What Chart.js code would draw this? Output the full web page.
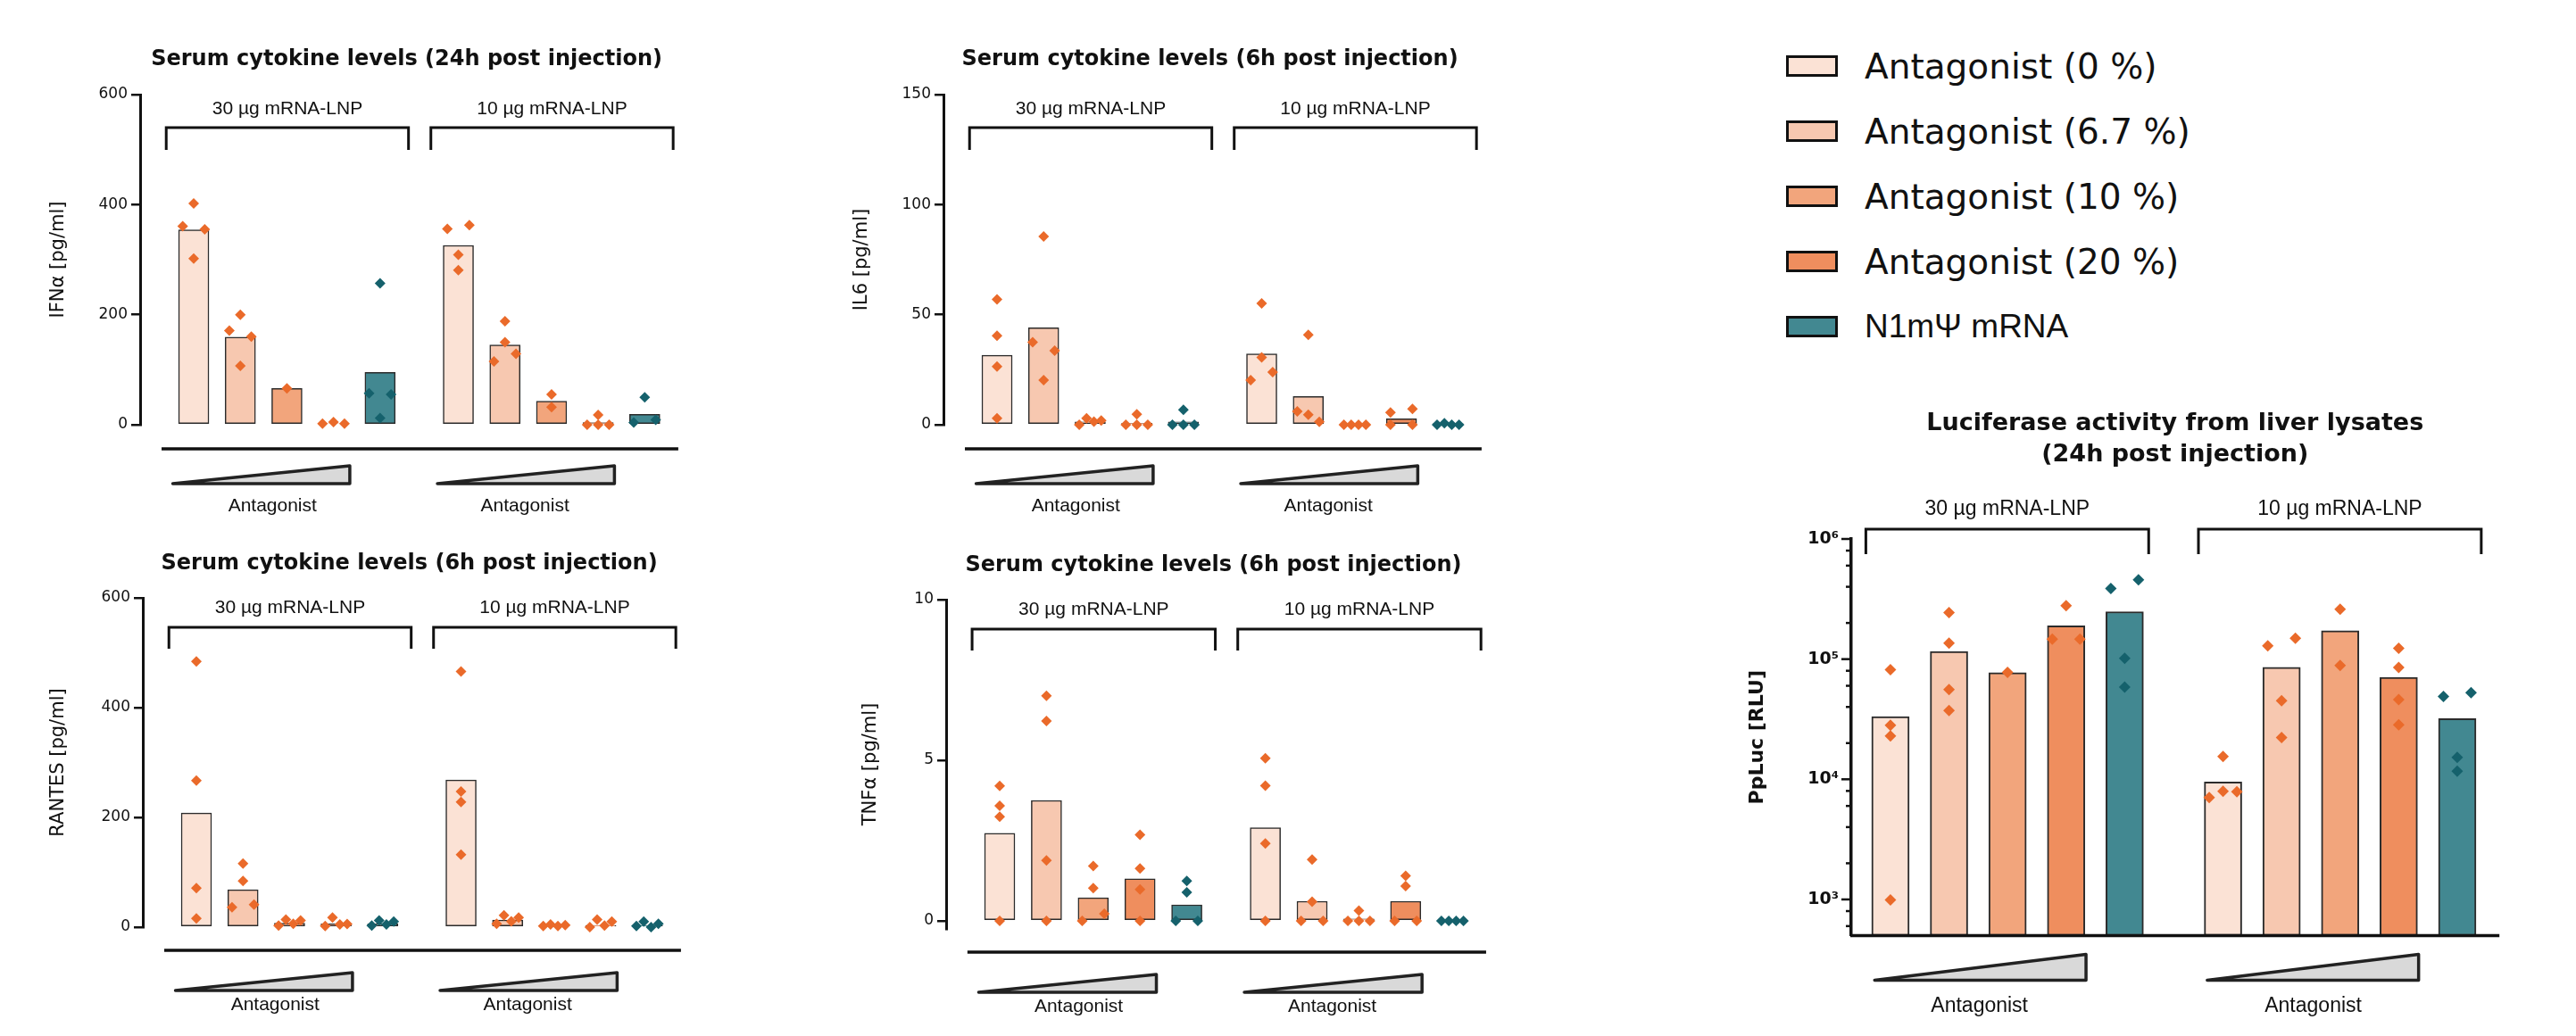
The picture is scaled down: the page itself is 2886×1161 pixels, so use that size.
<!DOCTYPE html>
<html>
<head>
<meta charset="utf-8">
<script src="https://cdn.jsdelivr.net/npm/chart.js@4.4.1/dist/chart.umd.min.js"></script>
<style>
    html, body { margin: 0; padding: 0; background: #fff; }
    body { width: 2886px; height: 1161px; position: relative; overflow: hidden; }
    canvas { position: absolute; }
    .legend-row { position: absolute; left: 2001px; height: 56px; display: flex; align-items: center; white-space: nowrap; color: #111; }
    .legend-box { width: 52px; height: 18px; border: 3px solid #111; margin-right: 30px; }
    .legend-text { font-family: "DejaVu Sans"; font-size: 39px; }
    .legend-text.alt { font-family: "Liberation Sans"; font-size: 37px; }
</style>
</head>
<body>
<script>
// Groups and conditions (bars go 30 µg x5, then 10 µg x5)
const groups = ['30 µg mRNA-LNP', '10 µg mRNA-LNP'];
const conditions = ['Antagonist (0 %)', 'Antagonist (6.7 %)', 'Antagonist (10 %)', 'Antagonist (20 %)', 'N1mΨ mRNA'];
const barColors = ['#fbe2d5', '#f7c8b0', '#f2a57c', '#ef8e5e', '#428891'];
const dotColors = ['#ea6a2a', '#ea6a2a', '#ea6a2a', '#ea6a2a', '#15616c'];

// IFNα, 24h [pg/ml]
const ifnTicks = [0, 200, 400, 600];
const ifnMeans = [354, 159, 66, 2, 95, 326, 145, 43, 4, 19];
const ifnPoints = [
    [361, 402, 355, 302], [171, 200, 160, 107], [66], [2, 5, 2], [57, 257, 55, 12],
    [356, 363, 309, 281], [115, 188, 150, 129], [55, 32], [18, 0, 0, 0], [4, 50, 9]
];

// IL6, 6h [pg/ml]
const il6Ticks = [0, 50, 100, 150];
const il6Means = [31.6, 44.1, 1.3, 0.7, 1.3, 32.2, 12.8, 0, 2.7, 0.3];
const il6Points = [
    [57, 40.4, 26.5, 2.9], [37.5, 85.5, 33.6, 20.3], [0, 2.9, 1.4, 1.9], [0, 4.8, 0, 0], [0, 6.8, 0, 0],
    [20.3, 55.1, 30.6, 23.9], [6.1, 40.8, 4.6, 1.3], [0, 0, 0, 0], [5.6, 0, 7.2, 0], [0, 0.7, 0, 0]
];

// RANTES, 6h [pg/ml]
const rantesTicks = [0, 200, 400, 600];
const rantesMeans = [208, 68, 7, 6, 6, 268, 13, 3, 3, 3];
const rantesPoints = [
    [484, 267, 71, 16], [116, 84, 36, 41], [3, 14, 6, 12], [2, 17.5, 4.7, 5.8], [3, 12, 5, 10],
    [466, 247, 228, 132], [6, 21.6, 10.5, 17.5], [2, 5, 2, 3.5], [0, 14, 3, 10], [2, 10, 0, 6]
];

// TNFα, 6h [pg/ml]
const tnfTicks = [0, 5, 10];
const tnfMeans = [2.73, 3.75, 0.72, 1.31, 0.5, 2.9, 0.61, 0.06, 0.61, 0];
const tnfPoints = [
    [4.2, 3.58, 3.24, 0], [7.01, 6.22, 1.88, 0], [0, 1.71, 1.02, 0.22], [2.68, 1.63, 0.98, 0], [0, 1.24, 0.89, 0],
    [5.06, 4.21, 2.41, 0], [0, 1.91, 0.6, 0], [0, 0.32, 0, 0], [0, 1.4, 1.08, 0], [0, 0, 0, 0]
];

// PpLuc from liver lysates, 24h [RLU]
const lucMajorTicks = [1e3, 1e4, 1e5, 1e6];
const lucMinorSteps = [2, 4, 6, 8];
const lucMeans = [33300, 116000, 77000, 189000, 248000, 9500, 85300, 172000, 70500, 32000];
const lucPoints = [
    [81800, 28200, 22900, 990], [244000, 136000, 55800, 37300], [77500], [279000, 146600, 146600], [387000, 458000, 101600, 58600],
    [15500, 7050, 7940, 7880], [128800, 149000, 45000, 22300], [260000, 88700], [123000, 85300, 46100, 28400], [48900, 52500, 15200, 11700]
];

// layout (slot units on the x axis: one bar = 1)
const GROUP_STEP = 5.68;
const X_MAX = 10.4;
const SPREAD = 0.236;
const ROW_PX = 11;
const SUP = '⁰¹²³⁴⁵⁶⁷⁸⁹';

const topDeco = { title: [-33], label: 22, brTop: 37, brBot: 62, line: 27, triTop: 46, triBot: 66, ant: 97 };
const lowDeco = { title: [-32], label: 17, brTop: 33, brBot: 57, line: 26, triTop: 51, triBot: 71, ant: 93 };

const panels = [
    { box: [0, 0, 880, 600], axisX: 157, top: 106, bottom: 476, xMin: -1.15, yMin: 0, yMax: 600,
      ticks: ifnTicks, means: ifnMeans, points: ifnPoints, yTitle: 'IFNα [pg/ml]', yTitleX: 66,
      title: ['Serum cytokine levels (24h post injection)'], deco: topDeco },
    { box: [900, 0, 880, 600], axisX: 1057, top: 106, bottom: 476, xMin: -1.15, yMin: 0, yMax: 150,
      ticks: il6Ticks, means: il6Means, points: il6Points, yTitle: 'IL6 [pg/ml]', yTitleX: 966,
      title: ['Serum cytokine levels (6h post injection)'], deco: topDeco },
    { box: [0, 590, 880, 571], axisX: 160, top: 670, bottom: 1039, xMin: -1.15, yMin: 0, yMax: 600,
      ticks: rantesTicks, means: rantesMeans, points: rantesPoints, yTitle: 'RANTES [pg/ml]', yTitleX: 66,
      title: ['Serum cytokine levels (6h post injection)'], deco: lowDeco },
    { box: [900, 590, 880, 571], axisX: 1060, top: 672, bottom: 1041, xMin: -1.145, yMin: -0.25, yMax: 10,
      ticks: tnfTicks, means: tnfMeans, points: tnfPoints, yTitle: 'TNFα [pg/ml]', yTitleX: 976,
      title: ['Serum cytokine levels (6h post injection)'], deco: lowDeco }
];

const lucPanel = {
    box: [1930, 400, 956, 761], axisX: 2074, top: 604, bottom: 1048.5, xMin: -0.67, yMin: 500, yMax: 1e6, log: true,
    means: lucMeans, points: lucPoints, yTitle: 'PpLuc [RLU]', yTitleX: 1969,
    title: ['Luciferase activity from liver lysates', '(24h post injection)'],
    deco: { title: [-122, -87], label: -27, brTop: -11, brBot: 17, line: 0, triTop: 21, triBot: 50, ant: 85 }
};

function barPos(k) {
    return Math.floor(k / 5) * GROUP_STEP + (k % 5);
}

// GraphPad-like spreading of dots that would overlap
function spread(vals, toAxis, pxPerUnit) {
    const order = vals.map((v, i) => i).sort((a, b) => vals[a] - vals[b]);
    const rows = [];
    order.forEach((i, n) => {
        if (n > 0 && (toAxis(vals[i]) - toAxis(vals[order[n - 1]])) * pxPerUnit < ROW_PX) {
            rows[rows.length - 1].push(i);
        } else {
            rows.push([i]);
        }
    });
    const off = [];
    rows.forEach(r => {
        r.sort((a, b) => a - b);
        r.forEach((i, j) => {
            off[i] = r.length === 1 ? 0 : -SPREAD + 2 * SPREAD * j / (r.length - 1);
        });
    });
    return off;
}

function makeDeco(cfg) {
    const lucStyle = !!cfg.log;
    return {
        id: 'deco',
        afterDraw(chart) {
            const ctx = chart.ctx;
            const xs = chart.scales.x;
            const ys = chart.scales.y;
            const a = chart.chartArea;
            const d = cfg.deco;
            const px = v => xs.getPixelForValue(v);
            ctx.save();
            ctx.fillStyle = '#111';
            ctx.strokeStyle = '#111';
            ctx.textBaseline = 'alphabetic';
            ctx.textAlign = 'center';

            // title
            ctx.font = lucStyle ? 'bold 27px "DejaVu Sans"' : 'bold 24px "DejaVu Sans"';
            cfg.title.forEach((line, i) => {
                ctx.fillText(line, px(lucStyle ? 4.86 : 4.57), a.top + d.title[i]);
            });

            const brL = lucStyle ? -0.42 : -0.59;
            const brR = lucStyle ? 0.41 : 0.61;
            const triL = lucStyle ? -0.27 : -0.45;
            const triR = lucStyle ? 3.34 : 3.35;
            const antShift = lucStyle ? [1.52, 1.54] : [1.69, 1.43];

            groups.forEach((g, gi) => {
                const first = gi * GROUP_STEP;
                const x1 = px(first + brL), x2 = px(first + 4 + brR);
                // bracket + group label
                ctx.lineWidth = 3;
                ctx.lineJoin = 'miter';
                ctx.beginPath();
                ctx.moveTo(x1, a.top + d.brBot);
                ctx.lineTo(x1, a.top + d.brTop);
                ctx.lineTo(x2, a.top + d.brTop);
                ctx.lineTo(x2, a.top + d.brBot);
                ctx.stroke();
                ctx.font = (lucStyle ? '23px' : '21px') + ' "Liberation Sans"';
                ctx.fillText(g, (x1 + x2) / 2, a.top + d.label);

                // antagonist wedge
                const tx1 = px(first + triL), tx2 = px(first + triR);
                ctx.beginPath();
                ctx.moveTo(tx1, a.bottom + d.triBot);
                ctx.lineTo(tx2, a.bottom + d.triTop);
                ctx.lineTo(tx2, a.bottom + d.triBot);
                ctx.closePath();
                ctx.fillStyle = '#d9d9d9';
                ctx.fill();
                ctx.lineWidth = 3.5;
                ctx.lineJoin = 'round';
                ctx.strokeStyle = '#222';
                ctx.stroke();
                ctx.strokeStyle = '#111';
                ctx.fillStyle = '#111';
                ctx.fillText('Antagonist', px(first + antShift[gi]), a.bottom + d.ant);
            });

            // x axis line
            ctx.lineWidth = 3.5;
            ctx.beginPath();
            const lx = lucStyle ? a.left - 1 : px(-0.69);
            ctx.moveTo(lx, a.bottom + d.line);
            ctx.lineTo(a.right, a.bottom + d.line);
            ctx.stroke();

            // log axis tick marks, long at decades
            if (lucStyle) {
                ctx.lineWidth = 2.5;
                ys.ticks.forEach(t => {
                    const y = ys.getPixelForValue(t.value);
                    const len = lucMajorTicks.includes(t.value) ? 11 : 6;
                    ctx.beginPath();
                    ctx.moveTo(a.left - len, y);
                    ctx.lineTo(a.left, y);
                    ctx.stroke();
                });
            }
            ctx.restore();
        }
    };
}

function buildChart(cfg) {
    const [bx, by, bw, bh] = cfg.box;
    const canvas = document.createElement('canvas');
    canvas.width = bw;
    canvas.height = bh;
    canvas.style.left = bx + 'px';
    canvas.style.top = by + 'px';
    canvas.style.width = bw + 'px';
    canvas.style.height = bh + 'px';
    document.body.appendChild(canvas);

    const slot = cfg.log ? 65.6 : (cfg.axisX === 1060 ? 52.4 : 52.2);
    const right = cfg.axisX + (X_MAX - cfg.xMin) * slot;
    const toAxis = cfg.log ? v => Math.log10(v) : v => v;
    const pxPerUnit = (cfg.bottom - cfg.top) / (toAxis(cfg.yMax) - toAxis(cfg.yMin));

    const barData = cfg.means.map((m, k) => ({ x: barPos(k), y: m }));
    const orange = [];
    const teal = [];
    cfg.points.forEach((vals, k) => {
        const off = spread(vals, toAxis, pxPerUnit);
        vals.forEach((v, i) => {
            (k % 5 === 4 ? teal : orange).push({ x: barPos(k) + off[i], y: v });
        });
    });

    const lineH = (cfg.log ? 22 : 21) * 1.2;
    let yScale;
    if (cfg.log) {
        yScale = {
            type: 'logarithmic',
            min: cfg.yMin,
            max: cfg.yMax,
            afterBuildTicks: s => {
                const list = [];
                lucMajorTicks.forEach(m => {
                    list.push({ value: m });
                    lucMinorSteps.forEach(f => {
                        const v = m / 10 * f;
                        if (v >= cfg.yMin && v < m) list.push({ value: v });
                    });
                });
                list.sort((p, q) => p.value - q.value);
                s.ticks = list;
            },
            afterFit: s => { s.width = cfg.axisX - bx; },
            border: { display: true, color: '#111', width: 3.5 },
            grid: { display: false, drawTicks: false },
            ticks: {
                autoSkip: false,
                padding: 14,
                color: '#111',
                font: { family: 'DejaVu Sans', size: 19, weight: 'bold' },
                callback: v => {
                    if (!lucMajorTicks.includes(v)) return '';
                    return '10' + SUP[Math.round(Math.log10(v))];
                }
            },
            title: {
                display: true, text: cfg.yTitle, color: '#111',
                font: { family: 'DejaVu Sans', size: 22, weight: 'bold' },
                padding: { top: cfg.yTitleX - bx - lineH / 2, bottom: 0 }
            }
        };
    } else {
        yScale = {
            type: 'linear',
            min: cfg.yMin,
            max: cfg.yMax,
            afterBuildTicks: s => { s.ticks = cfg.ticks.map(v => ({ value: v })); },
            afterFit: s => { s.width = cfg.axisX - bx; },
            border: { display: true, color: '#111', width: 3 },
            grid: { display: true, drawOnChartArea: false, drawTicks: true, tickLength: 10, color: '#111', lineWidth: 2.5 },
            ticks: { autoSkip: false, padding: 4, color: '#111', font: { family: 'DejaVu Sans', size: 17 } },
            title: {
                display: true, text: cfg.yTitle, color: '#111',
                font: { family: 'DejaVu Sans', size: 21 },
                padding: { top: cfg.yTitleX - bx - lineH / 2, bottom: 0 }
            }
        };
    }

    const dotR = cfg.log ? 6.5 : 6;
    return new Chart(canvas, {
        type: 'bar',
        data: {
            datasets: [
                {
                    type: 'bar', data: barData, order: 2,
                    backgroundColor: cfg.means.map((m, k) => barColors[k % 5]),
                    borderColor: '#2b2b2b', borderWidth: cfg.log ? 2 : 1.5, borderSkipped: false,
                    barThickness: cfg.log ? 42 : 34
                },
                {
                    type: 'scatter', data: orange, order: 1, clip: false,
                    pointStyle: 'rectRot', pointRadius: dotR, borderWidth: 0,
                    backgroundColor: dotColors[0]
                },
                {
                    type: 'scatter', data: teal, order: 1, clip: false,
                    pointStyle: 'rectRot', pointRadius: dotR, borderWidth: 0,
                    backgroundColor: dotColors[4]
                }
            ]
        },
        options: {
            responsive: false,
            animation: false,
            devicePixelRatio: 1,
            layout: {
                padding: { left: 0, top: cfg.top - by, right: bx + bw - right, bottom: by + bh - cfg.bottom }
            },
            plugins: { legend: { display: false }, tooltip: { enabled: false } },
            scales: {
                x: { type: 'linear', display: false, offset: false, min: cfg.xMin, max: X_MAX },
                y: yScale
            }
        },
        plugins: [makeDeco(cfg)]
    });
}

panels.forEach(buildChart);
buildChart(lucPanel);

// legend (top right)
conditions.forEach((label, i) => {
    const row = document.createElement('div');
    row.className = 'legend-row';
    row.style.top = (74 + i * 73 - 28) + 'px';
    const box = document.createElement('div');
    box.className = 'legend-box';
    box.style.background = barColors[i];
    const text = document.createElement('span');
    text.className = 'legend-text' + (i === 4 ? ' alt' : '');
    text.textContent = label;
    row.appendChild(box);
    row.appendChild(text);
    document.body.appendChild(row);
});
</script>
</body>
</html>
